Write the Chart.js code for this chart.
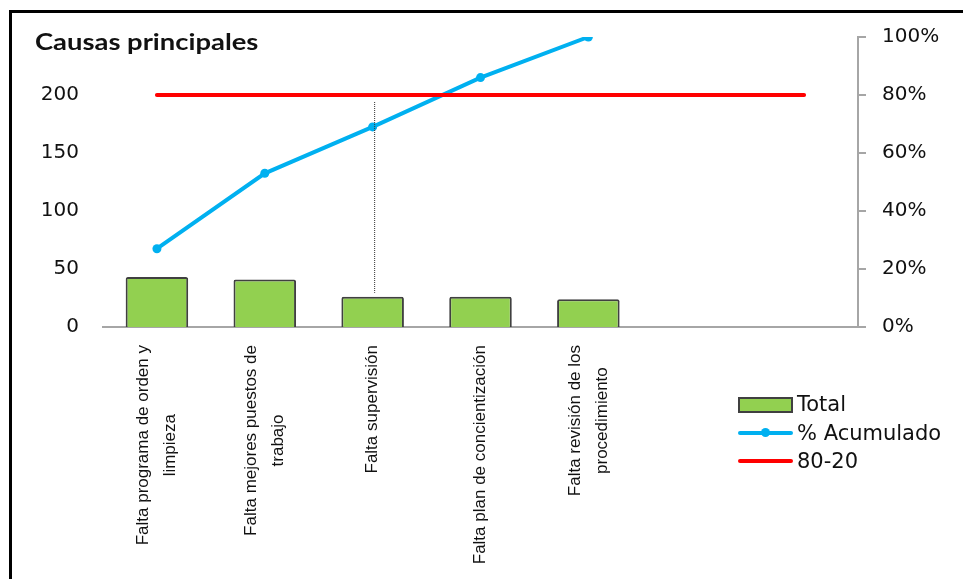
<!DOCTYPE html>
<html>
<head>
<meta charset="utf-8">
<script src="https://cdn.jsdelivr.net/npm/chart.js@4"></script>
<style>
  html, body { margin: 0; padding: 0; background: #fff; overflow: hidden; }
  #marco {
    position: absolute; left: 9px; top: 10px; width: 1000px; height: 700px;
    border-left: 3px solid #000; border-top: 3px solid #000;
  }
  #lienzo { position: absolute; left: 0; top: 0; width: 963px; height: 579px; }
  #titulo {
    position: absolute; left: 35px; top: 28px; white-space: nowrap;
    font: bold 22px Lato, sans-serif; color: #111;
    transform: scaleX(1.245); transform-origin: left center;
  }
  #leyenda { position: absolute; left: 738px; top: 391px; font: 21px "DejaVu Sans", sans-serif; color: #111; }
  .fila { position: relative; height: 28.5px; }
  .fila span { position: absolute; left: 59px; top: 1px; line-height: 24px; white-space: nowrap; }
  .caja { position: absolute; left: 0; top: 6px; width: 51px; height: 12px; background: #92D050; border: 2px solid #404040; }
  .raya { position: absolute; left: 0; top: 11px; width: 55px; height: 4px; border-radius: 2px; }
  .punto { position: absolute; left: 23px; top: 8.5px; width: 9px; height: 9px; border-radius: 50%; background: #00B0F0; }
</style>
</head>
<body>
<div id="marco"></div>
<canvas id="lienzo" width="963" height="579"></canvas>
<div id="titulo">Causas principales</div>
<div id="leyenda">
  <div class="fila"><div class="caja"></div><span>Total</span></div>
  <div class="fila"><div class="raya" style="background:#00B0F0"></div><div class="punto"></div><span>% Acumulado</span></div>
  <div class="fila"><div class="raya" style="background:#FF0000"></div><span>80-20</span></div>
</div>
<script>
// Causas del diagrama de Pareto (las dos últimas columnas quedan vacías)
const causas = [
  ['Falta programa de orden y', 'limpieza'],
  ['Falta mejores puestos de', 'trabajo'],
  ['Falta supervisión'],
  ['Falta plan de concientización'],
  ['Falta revisión de los', 'procedimiento'],
  [''],
  ['']
];
const totales = [43, 41, 26, 26, 24];
const acumulado = [27, 53, 69, 86, 100];
const corte8020 = [80, 80, 80, 80, 80, 80, 80];
const ticksIzq = [0, 50, 100, 150, 200];
const ticksDer = [0, 20, 40, 60, 80, 100];

const fuenteEjes = { family: 'DejaVu Sans', size: 20 };

// Etiquetas de categoría giradas y centradas por bloque
const etiquetasCategorias = {
  id: 'etiquetasCategorias',
  afterDraw(chart) {
    const ctx = chart.ctx;
    const x = chart.scales.x;
    const arriba = chart.chartArea.bottom + 18;
    ctx.save();
    ctx.font = '17px "Liberation Sans", sans-serif';
    ctx.fillStyle = '#111';
    ctx.textAlign = 'center';
    ctx.textBaseline = 'middle';
    causas.forEach((lineas, i) => {
      const cx = x.getPixelForValue(i);
      const ancho = Math.max(...lineas.map(l => ctx.measureText(l).width));
      const cy = arriba + ancho / 2;
      lineas.forEach((linea, j) => {
        ctx.save();
        ctx.translate(cx + (j - (lineas.length - 1) / 2) * 27, cy);
        ctx.rotate(-Math.PI / 2);
        ctx.fillText(linea, 0, 0);
        ctx.restore();
      });
    });
    ctx.restore();
  }
};

// Línea punteada desde el corte del 80% hasta la tercera causa
const guiaPunteada = {
  id: 'guiaPunteada',
  afterDatasetsDraw(chart) {
    const ctx = chart.ctx;
    const px = chart.scales.x.getPixelForValue(2) + 2;
    const y0 = chart.scales.yDer.getPixelForValue(corte8020[2]) + 7;
    const y1 = chart.scales.y.getPixelForValue(totales[2]) - 4;
    ctx.save();
    ctx.strokeStyle = '#333';
    ctx.lineWidth = 1;
    ctx.setLineDash([1, 1]);
    ctx.beginPath();
    ctx.moveTo(px, y0);
    ctx.lineTo(px, y1);
    ctx.stroke();
    ctx.restore();
  }
};

new Chart(document.getElementById('lienzo'), {
  type: 'bar',
  data: {
    labels: causas,
    datasets: [
      {
        type: 'line', label: '80-20', data: corte8020, yAxisID: 'yDer', order: 0,
        borderColor: '#FF0000', borderWidth: 4, pointRadius: 0, borderCapStyle: 'round'
      },
      {
        type: 'line', label: '% Acumulado', data: acumulado, yAxisID: 'yDer', order: 1,
        borderColor: '#00B0F0', backgroundColor: '#00B0F0', borderWidth: 4,
        pointRadius: 4.5, pointBorderWidth: 0, borderCapStyle: 'round'
      },
      {
        label: 'Total', data: totales, yAxisID: 'y', order: 2,
        backgroundColor: '#92D050', borderColor: '#404040', borderWidth: 2, borderRadius: 2,
        categoryPercentage: 1, barPercentage: 0.58
      }
    ]
  },
  options: {
    responsive: false,
    animation: false,
    layout: { padding: { top: 37 } },
    plugins: { legend: { display: false }, tooltip: { enabled: false } },
    scales: {
      x: {
        grid: { display: false },
        border: { color: '#a6a6a6', width: 2 },
        ticks: { display: false },
        afterFit(axis) { axis.height = 252; }
      },
      y: {
        position: 'left', min: 0, max: 250,
        grid: { display: false },
        border: { display: false },
        afterBuildTicks(axis) { axis.ticks = ticksIzq.map(v => ({ value: v })); },
        ticks: { padding: 16, color: '#111', font: fuenteEjes },
        afterFit(axis) { axis.width = 103; }
      },
      yDer: {
        position: 'right', min: 0, max: 100,
        grid: { drawOnChartArea: false, color: '#a6a6a6', lineWidth: 2, tickLength: 8 },
        border: { color: '#a6a6a6', width: 2 },
        afterBuildTicks(axis) { axis.ticks = ticksDer.map(v => ({ value: v })); },
        ticks: { padding: 16, color: '#111', font: fuenteEjes, callback: v => v + '%' },
        afterFit(axis) { axis.width = 105; }
      }
    }
  },
  plugins: [etiquetasCategorias, guiaPunteada]
});
</script>
</body>
</html>
